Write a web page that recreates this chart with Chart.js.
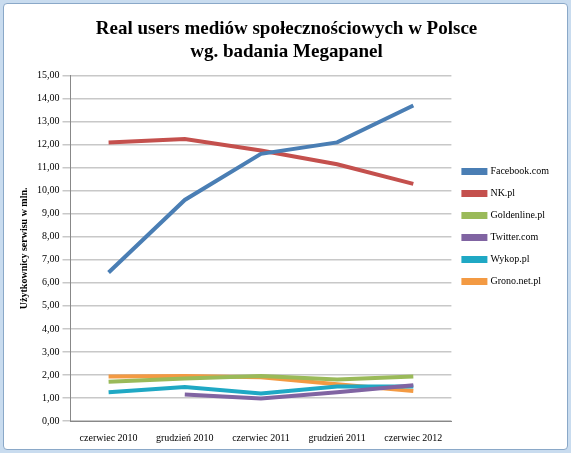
<!DOCTYPE html><html><head><meta charset="utf-8"><script src="https://cdn.jsdelivr.net/npm/chart.js@4"></script>
<style>html,body{margin:0;padding:0;background:#c9dcef;}#w{position:absolute;left:3px;top:3px;width:563px;height:445px;background:#fff;border:1px solid #8aa8c8;border-radius:4px;}</style></head><body>
<div id="w"><canvas id="c" width="563" height="445"></canvas></div>
<script>
const categories=["czerwiec 2010","grudzień 2010","czerwiec 2011","grudzień 2011","czerwiec 2012"];
const facebook=[6.45,9.6,11.6,12.1,13.7];
const nk=[12.1,12.25,11.75,11.15,10.3];
const goldenline=[1.7,1.85,1.95,1.8,1.93];
const twitter=[null,1.15,0.98,1.25,1.55];
const wykop=[1.25,1.48,1.2,1.5,1.5];
const grono=[1.93,1.95,1.9,1.6,1.3];
const yTicks=[0,1,2,3,4,5,6,7,8,9,10,11,12,13,14,15];
const mk=(l,d,c)=>({label:l,data:d,borderColor:c,backgroundColor:c,borderWidth:4,pointRadius:0,tension:0,fill:false});
new Chart(document.getElementById('c'),{type:'line',data:{labels:categories,datasets:[
mk('Facebook.com',facebook,'#4a7eb4'),mk('NK.pl',nk,'#c4504d'),mk('Goldenline.pl',goldenline,'#9aba59'),
mk('Twitter.com',twitter,'#8064a2'),mk('Wykop.pl',wykop,'#1fa8c4'),mk('Grono.net.pl',grono,'#f39a43')]},
options:{responsive:false,animation:false,layout:{padding:{left:10,right:8,top:2,bottom:2}},
plugins:{title:{display:true,text:['Real users mediów społecznościowych w Polsce','wg. badania Megapanel'],font:{family:'Liberation Serif',size:19,weight:'bold'},color:'#000',padding:{top:12,bottom:12}},
legend:{position:'right',labels:{boxWidth:22,boxHeight:3,font:{family:'Liberation Serif',size:10},color:'#000',padding:12}},tooltip:{enabled:false}},
scales:{x:{offset:true,grid:{display:false},border:{color:'#888'},ticks:{font:{family:'Liberation Serif',size:10},color:'#000',maxRotation:0}},
y:{min:0,max:15,afterBuildTicks:a=>{a.ticks=yTicks.map(v=>({value:v}));},grid:{color:'#c8c8c8',lineWidth:1.5},border:{color:'#888'},
ticks:{font:{family:'Liberation Serif',size:10},color:'#000',callback:v=>v.toFixed(2).replace('.',',')},
title:{display:true,text:'Użytkownicy serwisu w mln.',font:{family:'Liberation Serif',size:10,weight:'bold'},color:'#000'}}}}});
</script></body></html>
